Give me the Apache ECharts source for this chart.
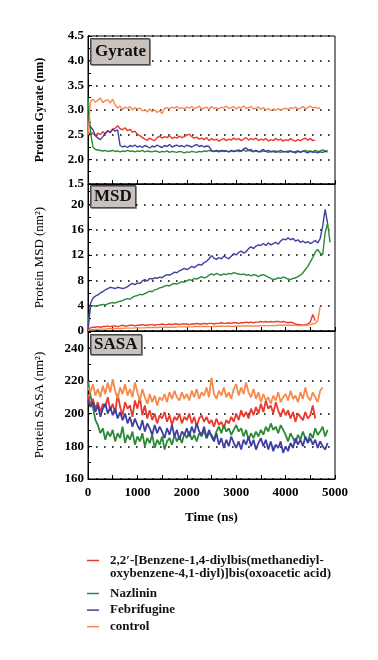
<!DOCTYPE html>
<html>
<head>
<meta charset="utf-8">
<script src="https://cdn.jsdelivr.net/npm/echarts@6/dist/echarts.min.js"></script>
<style>
html,body{margin:0;padding:0;background:#fff;}
#chart{width:378px;height:660px;}
</style>
</head>
<body>
<div id="chart"></div>
<script>
// ---------- DATA ----------
const timeStep = 50; // ns between samples
const seriesNames = [
  "2,2\u2032-[Benzene-1,4-diylbis(methanediyl-oxybenzene-4,1-diyl)]bis(oxoacetic acid)",
  "Nazlinin",
  "Febrifugine",
  "control"
];
const panelTitles = ["Gyrate", "MSD", "SASA"];
const xTicks = [0, 1000, 2000, 3000, 4000, 5000];

// Gyrate (nm)
const gyrRed = [2.50,2.55,2.52,2.48,2.53,2.50,2.56,2.52,2.58,2.55,
  2.60,2.63,2.68,2.62,2.60,2.64,2.58,2.61,2.55,2.57,
  2.51,2.48,2.44,2.41,2.39,2.43,2.40,2.38,2.44,2.47,
  2.43,2.46,2.44,2.48,2.42,2.45,2.43,2.47,2.44,2.46,
  2.49,2.51,2.46,2.43,2.45,2.41,2.43,2.40,2.44,2.38,
  2.42,2.39,2.41,2.37,2.40,2.42,2.38,2.41,2.39,2.43,
  2.40,2.42,2.38,2.41,2.44,2.39,2.42,2.40,2.43,2.38,
  2.41,2.39,2.42,2.37,2.40,2.38,2.42,2.39,2.41,2.37,
  2.40,2.38,2.42,2.39,2.37,2.40,2.38,2.41,2.43,2.39,
  2.42,2.38,2.39];
const gyrGreen = [3.25,2.55,2.25,2.20,2.19,2.18,2.17,2.18,2.16,2.17,
  2.18,2.16,2.17,2.15,2.17,2.16,2.18,2.16,2.17,2.15,
  2.17,2.16,2.18,2.15,2.17,2.16,2.15,2.17,2.16,2.14,
  2.16,2.15,2.17,2.14,2.16,2.15,2.14,2.16,2.15,2.13,
  2.15,2.14,2.16,2.15,2.14,2.16,2.15,2.17,2.16,2.18,
  2.17,2.16,2.18,2.17,2.16,2.18,2.17,2.15,2.17,2.16,
  2.18,2.16,2.17,2.19,2.16,2.18,2.17,2.15,2.17,2.16,
  2.15,2.17,2.16,2.14,2.16,2.15,2.17,2.15,2.14,2.16,
  2.15,2.17,2.16,2.14,2.16,2.17,2.15,2.16,2.18,2.16,
  2.17,2.15,2.18,2.16,2.17,2.19,2.17,2.18];
const gyrBlue = [2.72,2.66,2.60,2.48,2.43,2.40,2.46,2.53,2.58,2.54,
  2.62,2.57,2.60,2.28,2.25,2.27,2.24,2.28,2.26,2.29,
  2.25,2.27,2.24,2.28,2.26,2.23,2.27,2.25,2.29,2.26,
  2.24,2.28,2.26,2.30,2.25,2.27,2.29,2.26,2.28,2.25,
  2.29,2.27,2.25,2.28,2.30,2.26,2.28,2.25,2.27,2.26,
  2.18,2.16,2.17,2.15,2.18,2.16,2.17,2.15,2.18,2.16,
  2.17,2.19,2.16,2.21,2.23,2.18,2.20,2.16,2.18,2.15,
  2.17,2.20,2.16,2.18,2.15,2.17,2.14,2.16,2.18,2.15,
  2.16,2.14,2.17,2.15,2.13,2.16,2.14,2.17,2.15,2.13,
  2.16,2.14,2.15,2.13,2.15,2.14,2.16,2.15];
const gyrControl = [2.50,3.17,3.22,3.16,3.20,3.24,3.15,3.19,3.21,3.14,
  3.22,3.10,3.04,3.08,3.01,3.06,3.03,3.07,3.00,3.05,
  3.02,3.04,2.98,3.01,2.96,3.02,2.97,3.00,2.95,2.99,
  2.93,3.03,3.05,3.02,3.06,3.04,3.07,3.03,3.05,3.02,
  3.06,3.04,3.07,3.03,3.05,3.08,3.02,3.04,3.06,3.01,
  3.07,3.03,3.05,3.02,3.06,3.04,3.08,3.03,3.05,3.07,
  3.02,3.06,3.04,3.08,3.03,3.05,3.07,3.02,3.04,3.06,
  3.01,3.05,3.00,3.03,2.99,3.02,3.00,3.03,2.99,3.02,
  3.04,3.01,3.05,3.03,3.06,3.02,3.04,3.07,3.03,3.05,
  3.08,3.04,3.06,3.03,3.05];

// MSD (nm^2)
const msdRed = [0.3,0.5,0.6,0.6,0.7,0.6,0.7,0.7,0.8,0.7,
  0.8,0.8,0.7,0.8,0.9,0.8,0.8,0.9,0.9,0.8,
  0.9,0.9,1.0,0.9,0.9,1.0,1.0,0.9,1.0,1.0,
  1.1,1.0,1.0,1.1,1.0,1.1,1.1,1.0,1.1,1.1,
  1.1,1.0,1.1,1.1,1.2,1.1,1.1,1.2,1.1,1.2,
  1.2,1.1,1.2,1.2,1.3,1.2,1.2,1.3,1.2,1.3,
  1.3,1.2,1.3,1.3,1.4,1.3,1.4,1.3,1.4,1.4,
  1.5,1.4,1.5,1.4,1.5,1.4,1.5,1.5,1.4,1.5,
  1.4,1.3,1.4,1.3,1.1,1.0,1.0,0.9,1.0,1.1,
  1.4,2.6,1.6];
const msdGreen = [1.0,3.8,4.0,3.9,4.0,4.1,4.2,4.1,4.3,4.4,
  4.5,4.4,4.6,4.7,4.8,5.0,5.1,5.0,5.3,5.5,
  5.6,5.8,5.7,5.9,6.1,6.3,6.2,6.5,6.6,6.8,
  6.9,7.1,7.2,7.1,7.4,7.5,7.4,7.6,7.8,7.7,
  7.9,8.1,8.0,8.3,8.2,8.4,8.6,8.4,8.5,8.8,
  9.0,8.8,9.1,8.9,8.8,9.0,8.9,9.1,9.0,9.2,
  9.1,9.0,8.9,9.0,8.8,8.9,8.7,8.9,8.8,8.6,
  8.8,8.9,8.7,8.5,8.3,8.1,8.2,8.4,8.3,8.5,
  8.4,8.2,8.1,8.3,8.4,8.6,8.8,9.2,9.7,10.2,
  10.9,11.6,12.4,12.9,12.3,12.0,15.5,17.0,14.0];
const msdBlue = [0.0,4.3,5.2,5.5,5.7,6.0,6.2,6.5,6.7,6.9,
  6.8,6.7,6.9,6.8,6.7,6.8,7.0,7.3,7.5,7.3,
  7.6,7.5,7.9,8.1,7.9,8.3,8.2,8.4,8.3,8.5,
  8.4,8.7,8.9,8.8,9.0,9.3,9.2,9.5,9.7,9.9,
  9.7,9.9,10.2,10.0,10.3,10.5,10.4,10.8,11.0,11.4,
  11.9,11.5,11.3,11.6,11.4,11.8,11.6,11.4,11.8,12.2,
  12.0,12.4,12.6,12.3,12.5,13.0,13.3,13.0,13.4,13.6,
  13.5,13.8,13.5,13.9,13.6,13.8,14.0,13.7,14.2,14.5,
  14.4,14.7,14.4,14.6,14.2,14.4,14.0,14.2,13.9,14.1,
  13.8,14.0,14.3,13.9,14.6,16.5,19.2,17.0];
const msdControl = [0.1,0.2,0.2,0.25,0.25,0.3,0.3,0.3,0.35,0.35,
  0.35,0.4,0.4,0.4,0.4,0.45,0.45,0.45,0.45,0.5,
  0.5,0.5,0.5,0.5,0.55,0.55,0.55,0.55,0.55,0.6,
  0.6,0.6,0.6,0.6,0.6,0.6,0.65,0.65,0.65,0.65,
  0.65,0.65,0.65,0.7,0.7,0.7,0.7,0.7,0.7,0.7,
  0.7,0.7,0.75,0.75,0.75,0.75,0.75,0.75,0.75,0.75,
  0.75,0.8,0.8,0.8,0.8,0.8,0.8,0.8,0.8,0.8,
  0.85,0.85,0.85,0.85,0.85,0.85,0.85,0.9,0.9,0.9,
  0.9,0.9,0.9,0.9,0.9,0.85,0.85,0.85,0.9,0.95,
  1.0,1.1,1.2,1.6,3.9];

// SASA (nm^2)
const sasaRed = [212,205,209,203,207,201,206,204,210,202,
  206,200,212,204,199,207,203,205,198,208,
  203,210,199,205,197,202,196,200,194,199,
  197,201,195,199,193,198,196,200,194,198,
  196,200,194,198,192,197,199,195,198,194,
  196,192,197,193,195,191,196,194,198,195,
  200,196,202,198,201,197,203,199,204,200,
  206,201,208,203,205,200,207,202,198,203,
  199,202,197,201,195,200,198,196,201,197,
  199,205,197];
const sasaGreen = [220,211,204,196,193,188,191,184,189,186,
  190,183,188,185,192,182,187,184,189,181,
  186,183,188,180,185,182,187,179,184,181,
  186,178,183,185,181,187,183,186,182,188,
  185,189,184,187,183,188,186,190,185,188,
  187,184,189,192,188,193,189,191,187,190,
  193,189,191,186,190,184,188,185,189,186,
  190,187,192,189,194,190,192,188,193,190,
  187,183,188,185,182,187,184,189,185,183,
  188,185,191,187,189,192,186,190];
const sasaBlue = [208,204,207,201,205,198,203,206,200,204,
  199,203,197,201,196,200,194,198,192,197,
  193,190,196,189,194,191,187,193,188,192,
  189,185,191,187,193,186,190,184,189,187,
  191,186,192,188,194,189,187,192,185,190,
  186,183,188,181,185,179,184,180,186,182,
  179,183,178,184,181,186,180,184,178,182,
  185,180,184,178,183,177,181,179,183,176,
  180,177,182,179,185,181,184,180,186,182,
  185,181,184,179,183,180,178,182];
const sasaControl = [216,213,218,211,215,210,217,212,219,213,
  221,214,209,216,212,218,211,215,210,219,
  213,208,215,210,206,212,207,211,205,210,
  208,212,207,213,209,214,210,208,213,209,
  212,208,214,210,215,209,213,211,216,210,
  222,212,209,214,211,216,210,213,209,215,
  218,211,216,212,219,213,210,215,209,213,
  207,212,208,210,206,211,208,213,207,210,
  212,208,214,209,211,207,213,209,216,210,
  208,213,210,207,214,216];

const colors = ['#ea3a2e', '#2b8a35', '#3f3fa2', '#f7894c'];

// ---------- CHART ----------
const serif = '"Liberation Serif", "DejaVu Serif", serif';
const toPairs = vals => vals.map((v, i) => [i * timeStep, v]);

const panels = [
  {data: [gyrRed, gyrGreen, gyrBlue, gyrControl]},
  {data: [msdRed, msdGreen, msdBlue, msdControl]},
  {data: [sasaRed, sasaGreen, sasaBlue, sasaControl]}
];

const gridTops = [36, 184, 331];
const gridHeights = [148, 147, 148];

const grids = gridTops.map((t, i) => ({
  left: 88, top: t, width: 247, height: gridHeights[i],
  show: true, borderColor: '#000', borderWidth: 1, backgroundColor: 'transparent'
}));

const xAxes = [0, 1, 2].map(i => ({
  type: 'value', gridIndex: i, min: xTicks[0], max: xTicks[xTicks.length - 1], interval: 1000,
  axisLine: {show: true, lineStyle: {color: '#000', width: 1}},
  axisTick: {show: true, inside: true, length: 4, lineStyle: {color: '#000'}},
  minorTick: {show: true, splitNumber: 2, length: 4, lineStyle: {color: '#000'}},
  splitLine: {show: false},
  axisLabel: {show: i === 2, margin: 7, color: '#000', fontFamily: serif, fontWeight: 'bold', fontSize: 13,
    formatter: v => String(v)},
  name: i === 2 ? 'Time (ns)' : '',
  nameLocation: 'middle', nameGap: 32,
  nameTextStyle: {color: '#000', fontFamily: serif, fontWeight: 'bold', fontSize: 13}
}));

const dotted = {show: true, lineStyle: {color: '#000', width: 1.6, type: [1.6, 6.4]}};
const yCommon = {
  type: 'value',
  axisLine: {show: true, lineStyle: {color: '#000', width: 1}},
  axisTick: {show: true, inside: true, length: 4, lineStyle: {color: '#000'}},
  minorTick: {show: true, splitNumber: 2, length: 3, lineStyle: {color: '#000'}},
  splitLine: dotted,
  nameLocation: 'middle', nameGap: 42
};
const labelStyle = {color: '#000', fontFamily: serif, fontWeight: 'bold', fontSize: 13, margin: 4};

const yAxes = [
  Object.assign({}, yCommon, {
    gridIndex: 0, min: 1.5, max: 4.5, interval: 0.5,
    axisLabel: Object.assign({}, labelStyle, {formatter: v => v.toFixed(1)}),
    name: 'Protein Gyrate (nm)',
    nameTextStyle: {color: '#000', fontFamily: serif, fontWeight: 'bold', fontSize: 12}
  }),
  Object.assign({}, yCommon, {
    gridIndex: 1, min: 0, max: 23.2, interval: 4,
    axisLabel: Object.assign({}, labelStyle, {showMaxLabel: false}),
    name: 'Protein MSD (nm\u00B2)',
    nameTextStyle: {color: '#000', fontFamily: serif, fontWeight: 'normal', fontSize: 13}
  }),
  Object.assign({}, yCommon, {
    gridIndex: 2, min: 160, max: 250.5, interval: 20,
    axisLabel: Object.assign({}, labelStyle, {showMaxLabel: false}),
    name: 'Protein SASA (nm\u00B2)',
    nameTextStyle: {color: '#000', fontFamily: serif, fontWeight: 'normal', fontSize: 13}
  })
];

const series = [];
panels.forEach((p, pi) => {
  p.data.forEach((vals, si) => {
    series.push({
      name: seriesNames[si], type: 'line',
      xAxisIndex: pi, yAxisIndex: pi,
      data: toPairs(vals),
      showSymbol: false, symbol: 'none',
      lineStyle: {color: colors[si], width: pi === 2 ? 1.8 : 1.4},
      itemStyle: {color: colors[si]},
      silent: true
    });
  });
});

const titleTops = [38, 185, 334];
const titlePads = [[5, 4, 5, 5], [3, 4, 3, 4], [2, 4, 2, 4]];
const titles = panelTitles.map((t, i) => ({
  text: t, left: 90, top: titleTops[i],
  backgroundColor: '#c9c2be', borderColor: '#4a4a4a', borderWidth: 1,
  padding: titlePads[i],
  shadowColor: 'rgba(0,0,0,0.35)', shadowOffsetX: 1, shadowOffsetY: 1, shadowBlur: 0,
  textStyle: {color: '#111', fontFamily: serif, fontWeight: 'bold', fontSize: 17}
}));

const legendText = {color: '#111', fontFamily: serif, fontWeight: 'bold', fontSize: 13};
const option = {
  animation: false,
  backgroundColor: '#fff',
  title: titles,
  grid: grids,
  xAxis: xAxes,
  yAxis: yAxes,
  legend: [
    {
      data: [seriesNames[0]], left: 87, top: 541, orient: 'vertical', padding: 0,
      icon: 'rect', itemWidth: 12, itemHeight: 1.5, selectedMode: false,
      formatter: n => '\n' + n.replace('methanediyl-', 'methanediyl-\n'),
      textStyle: Object.assign({}, legendText, {lineHeight: 13, padding: [0, 0, 0, 6]})
    },
    {
      data: seriesNames.slice(1), left: 87, top: 586.5, orient: 'vertical', padding: 0,
      icon: 'rect', itemWidth: 12, itemHeight: 1.5, itemGap: 2.6, selectedMode: false,
      textStyle: Object.assign({}, legendText, {lineHeight: 14, padding: [0, 0, 0, 6]})
    }
  ],
  series: series
};

const chart = echarts.init(document.getElementById('chart'), null, {renderer: 'canvas'});
chart.setOption(option);
</script>
</body>
</html>
